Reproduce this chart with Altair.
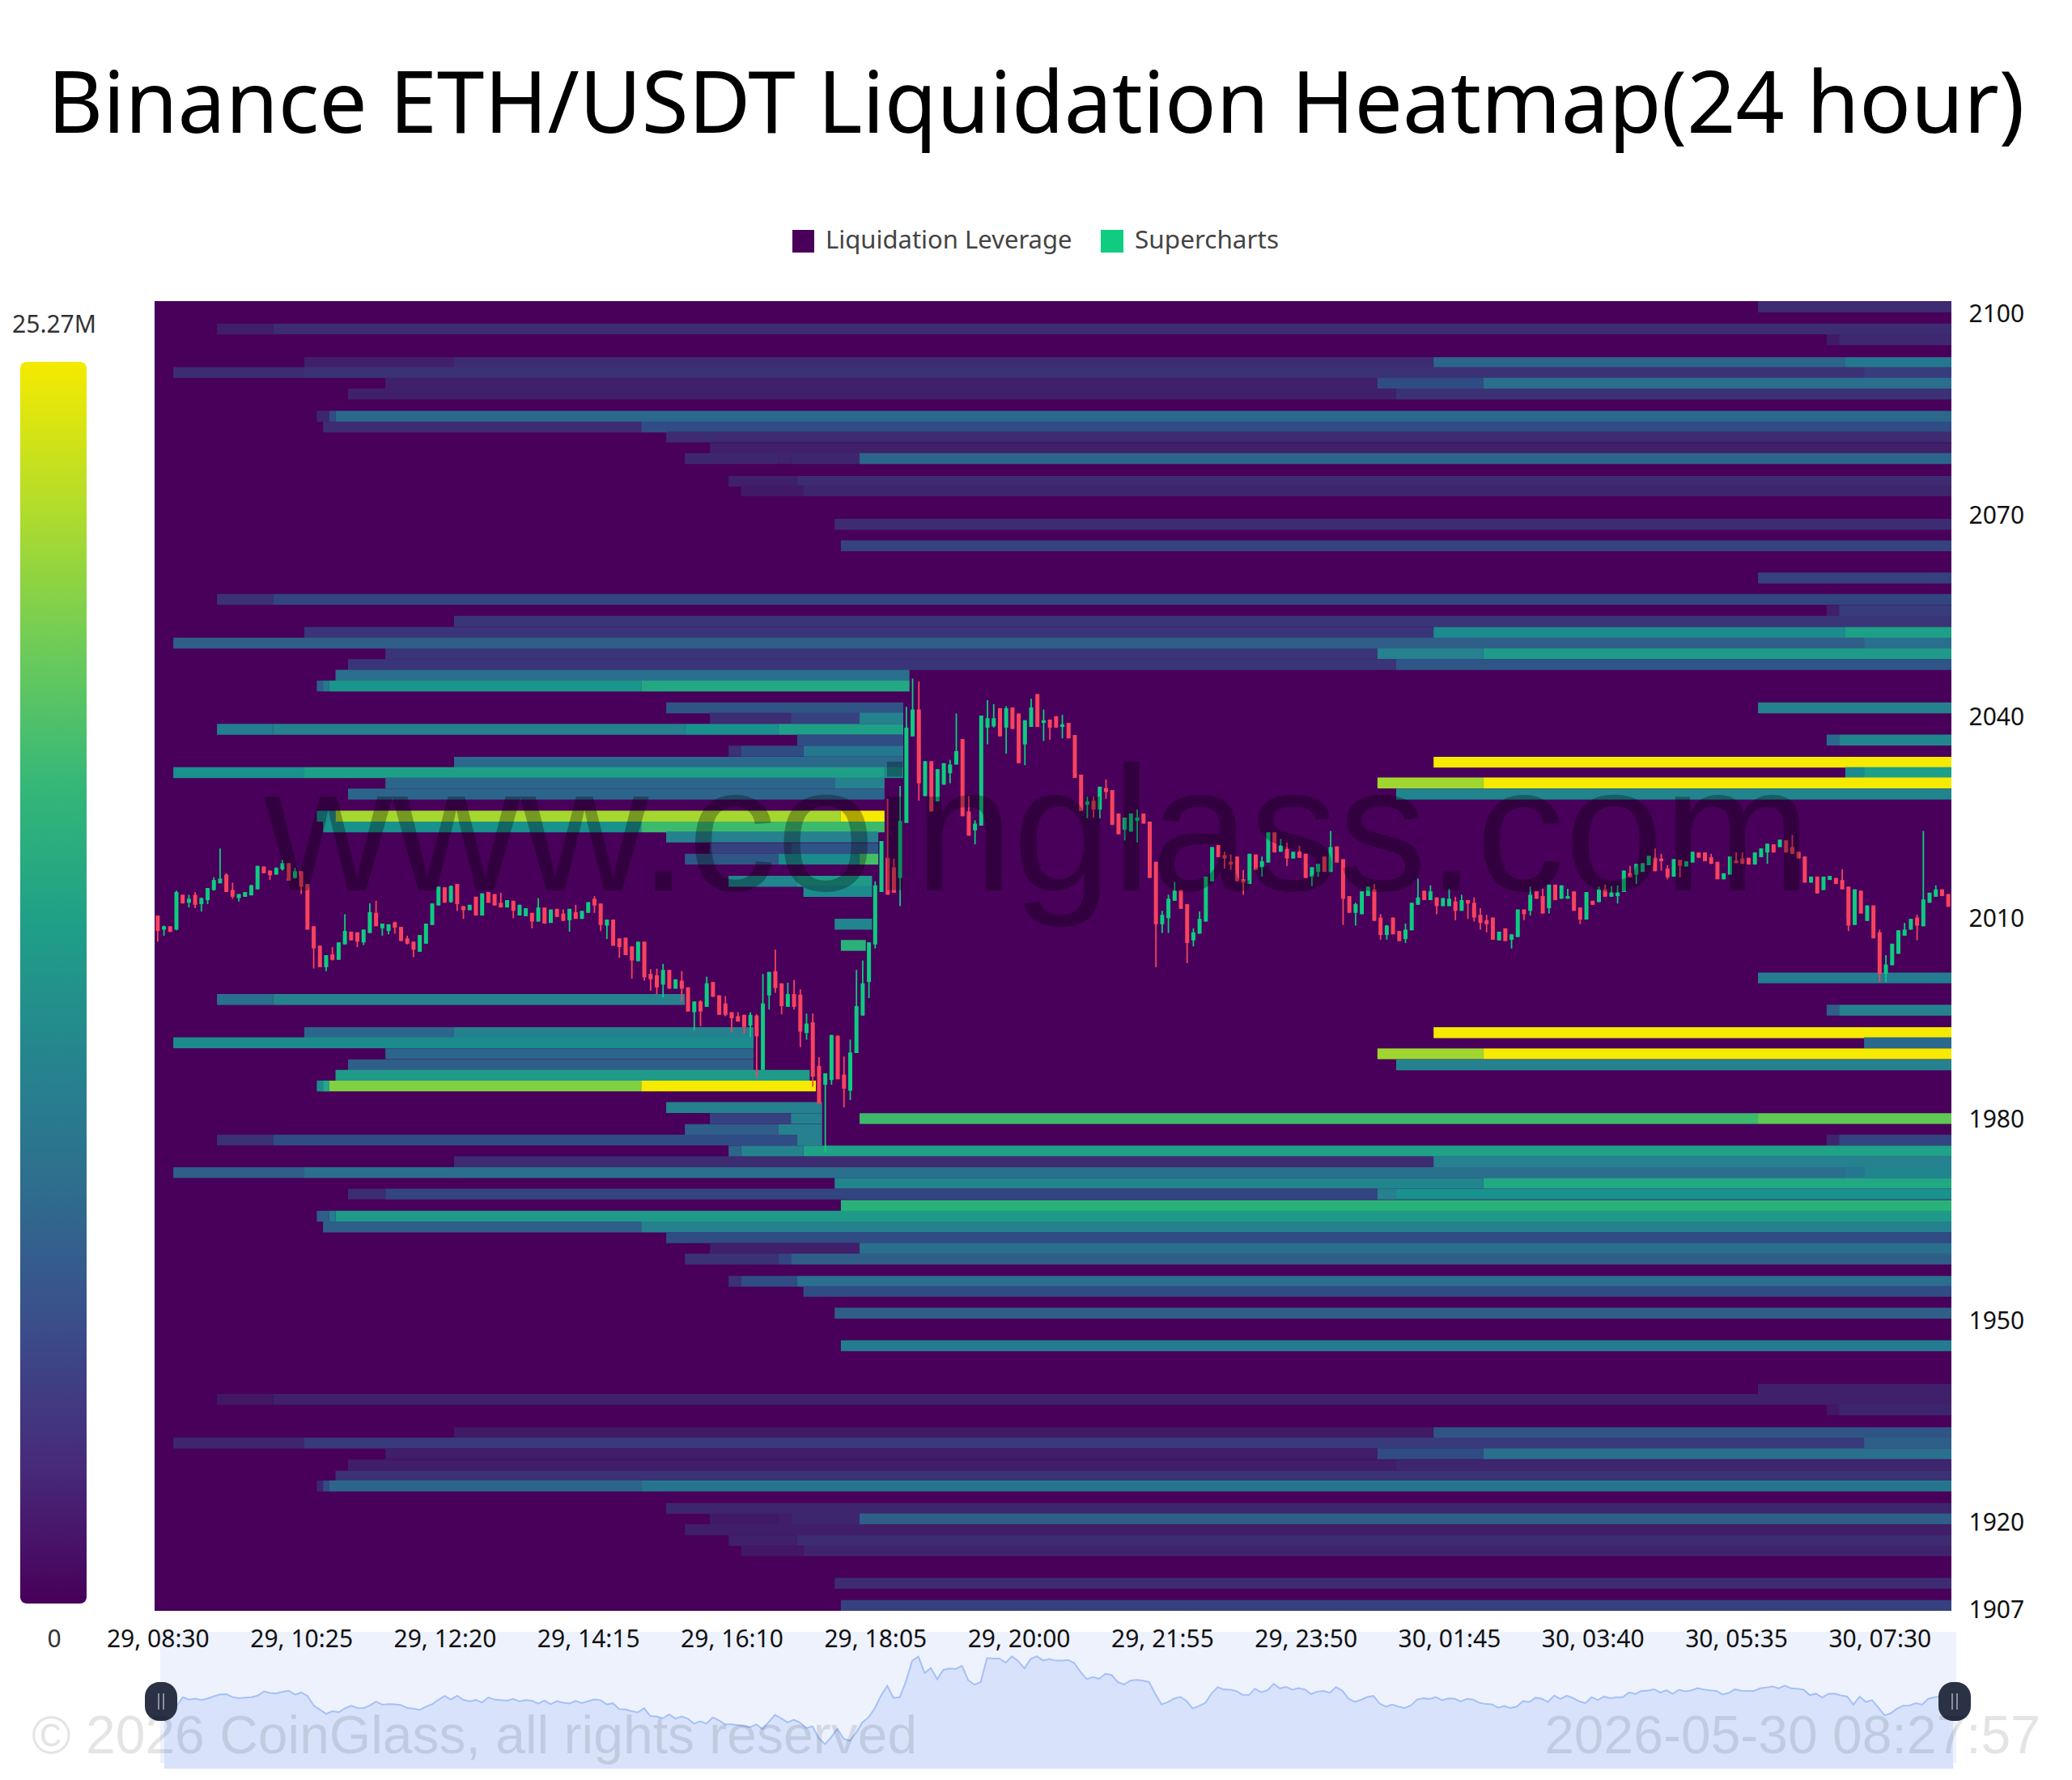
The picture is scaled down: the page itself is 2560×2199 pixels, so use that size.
import altair as alt
import pandas as pd

MAX_LIQ = 25.27

# candles, 5 minute bars
opens = [2010.5,2008.4,2008.9,2008.4,2013.6,2012.4,2013.6,2012.2,2012.8,2014.3,
 2015.3,2016.6,2014.3,2013.1,2013.3,2013.5,2014.4,2017.8,2017.2,2016.6,
 2017.4,2018.3,2016.1,2017.1,2015.2,2008.9,2006.0,2002.8,2004.7,2003.9,
 2006.2,2008.1,2008.0,2006.5,2007.9,2010.9,2008.6,2008.2,2009.5,2008.8,
 2007.1,2006.6,2005.1,2006.3,2009.1,2012.0,2014.7,2012.5,2015.2,2011.9,
 2011.3,2013.3,2010.5,2014.0,2013.7,2012.4,2011.7,2012.7,2010.5,2010.4,
 2010.9,2009.6,2011.7,2009.4,2011.5,2010.8,2009.8,2011.0,2010.0,2010.9,
 2013.0,2012.3,2009.0,2009.9,2007.1,2007.2,2005.9,2003.7,2006.6,2001.8,
 2001.6,2000.2,2002.4,1999.6,2000.8,1999.8,1996.1,1997.7,1996.9,2000.6,
 1998.6,1997.4,1996.1,1995.5,1995.7,1994.1,1995.6,1987.5,1998.6,2002.2,
 2000.4,1996.9,1998.8,1998.7,1993.0,1994.6,1988.1,1985.3,1986.0,1992.6,
 1986.8,1984.4,1990.0,1995.6,2000.6,2006.2,2014.0,2019.1,2017.7,2016.1,
 2024.3,2037.2,2041.2,2028.3,2033.5,2027.5,2030.0,2031.7,2033.0,2036.8,
 2026.0,2023.2,2023.9,2038.5,2038.7,2041.4,2038.5,2041.5,2040.6,2036.0,
 2038.6,2043.5,2039.2,2039.7,2040.2,2038.6,2039.2,2037.4,2031.5,2027.0,
 2027.6,2026.3,2029.5,2029.2,2025.7,2023.3,2023.0,2024.6,2025.7,2024.5,
 2018.5,2009.2,2010.1,2012.7,2014.3,2012.2,2006.8,2007.8,2009.6,2015.6,
 2021.0,2019.5,2018.5,2019.3,2015.9,2015.2,2019.6,2017.7,2018.4,2022.9,
 2020.0,2020.4,2019.0,2020.0,2019.7,2016.3,2017.0,2019.3,2017.0,2020.8,
 2018.9,2013.4,2010.9,2010.7,2013.4,2014.4,2010.2,2007.6,2010.2,2008.2,
 2007.0,2008.3,2012.1,2014.2,2012.8,2013.2,2011.9,2011.9,2012.6,2011.2,
 2012.8,2012.4,2010.6,2009.8,2010.2,2006.8,2008.6,2006.9,2007.3,2011.4,
 2011.2,2014.1,2013.4,2011.6,2015.1,2013.0,2013.0,2014.1,2011.7,2009.9,
 2012.7,2012.5,2014.4,2013.3,2013.4,2014.0,2016.8,2016.6,2017.0,2018.0,
 2019.1,2019.0,2017.5,2016.3,2018.8,2017.8,2018.4,2019.9,2019.9,2019.2,
 2018.5,2015.9,2016.6,2018.7,2019.0,2019.1,2018.1,2019.2,2019.9,2021.1,
 2020.7,2021.7,2020.7,2020.0,2019.3,2015.4,2016.3,2014.3,2015.8,2016.1,
 2015.8,2014.8,2009.1,2014.2,2009.7,2012.0,2008.0,2001.8,2003.1,2004.8,
 2007.5,2008.4,2010.2,2008.9,2012.4,2013.3,2014.4,2013.7]
closes = [2008.2,2008.9,2008.1,2014.0,2012.3,2013.0,2012.1,2013.1,2014.6,2015.8,
 2016.0,2014.0,2013.3,2013.7,2014.0,2015.0,2017.9,2016.8,2016.5,2017.6,
 2018.3,2015.7,2017.1,2014.8,2008.4,2005.6,2002.8,2004.6,2003.9,2006.5,
 2008.2,2006.8,2006.6,2008.4,2011.0,2008.9,2009.3,2009.2,2008.7,2006.7,
 2006.3,2005.4,2007.6,2009.3,2012.3,2014.8,2012.4,2014.9,2012.2,2011.3,
 2012.1,2010.5,2013.8,2012.4,2012.0,2011.7,2012.8,2011.2,2012.1,2011.6,
 2009.6,2011.7,2009.3,2011.4,2010.3,2009.7,2011.5,2010.0,2011.2,2012.5,
 2012.0,2009.1,2009.9,2006.0,2005.8,2004.6,2003.8,2006.6,2001.3,2001.0,
 1999.8,2002.4,1999.6,2001.0,1999.6,1996.2,1997.7,1996.2,2000.4,1998.4,
 1995.7,1995.7,1995.2,1994.7,1993.9,1995.7,1992.5,1997.4,2002.1,1999.7,
 1997.0,1998.8,1996.9,1993.2,1994.4,1986.5,1982.5,1987.0,1992.7,1986.1,
 1984.7,1990.1,1997.0,2000.4,2006.5,2015.0,2021.6,2013.6,2013.9,2024.6,
 2038.5,2041.2,2030.2,2033.5,2026.0,2032.3,2033.2,2033.0,2035.0,2025.3,
 2022.4,2024.2,2040.3,2039.9,2039.9,2037.2,2041.4,2038.3,2033.2,2039.6,
 2041.5,2038.6,2039.6,2038.5,2038.5,2039.0,2036.9,2031.0,2026.1,2027.5,
 2026.3,2029.7,2028.9,2024.0,2022.6,2025.1,2025.7,2025.1,2024.2,2016.1,
 2009.2,2010.6,2013.0,2014.2,2011.5,2006.4,2008.0,2010.0,2016.3,2020.7,
 2019.2,2019.0,2018.1,2015.6,2015.4,2019.7,2017.3,2018.6,2022.9,2019.9,
 2020.9,2019.0,2020.0,2019.1,2016.1,2017.7,2018.2,2017.0,2020.7,2018.4,
 2013.0,2010.9,2012.2,2014.1,2014.8,2009.7,2007.6,2009.0,2007.7,2006.7,
 2008.4,2012.4,2013.2,2012.8,2014.1,2011.9,2013.1,2013.0,2011.2,2012.8,
 2012.3,2010.2,2009.4,2009.2,2006.9,2008.1,2006.7,2007.7,2011.4,2010.7,
 2013.6,2013.0,2010.8,2015.1,2012.8,2015.0,2013.4,2011.2,2009.9,2014.0,
 2012.1,2014.4,2013.3,2013.9,2013.9,2017.2,2016.2,2018.2,2018.3,2019.4,
 2017.1,2018.6,2016.2,2018.9,2017.9,2018.6,2020.0,2019.1,2018.6,2018.2,
 2015.9,2016.8,2019.3,2018.3,2018.2,2018.1,2019.9,2020.5,2021.2,2019.9,
 2021.8,2019.9,2019.7,2019.0,2015.4,2016.3,2013.8,2016.3,2016.4,2015.2,
 2014.4,2009.0,2014.4,2010.8,2012.0,2007.1,2001.8,2003.2,2006.3,2008.3,
 2008.4,2010.0,2009.0,2012.9,2013.9,2014.4,2013.4,2011.8]
highs = [2010.5,2009.0,2008.9,2014.2,2013.6,2013.6,2014.0,2013.2,2014.6,2016.2,
 2020.5,2016.8,2015.4,2013.7,2014.0,2015.1,2017.9,2017.8,2017.2,2017.7,
 2018.8,2018.3,2017.6,2017.1,2015.2,2008.9,2006.0,2004.6,2005.8,2006.5,
 2010.7,2008.1,2008.0,2008.4,2012.3,2012.7,2009.3,2009.2,2009.6,2008.8,
 2007.5,2006.6,2007.6,2009.3,2012.3,2014.8,2014.7,2015.0,2015.2,2011.9,
 2012.1,2013.3,2013.8,2014.0,2013.7,2013.9,2012.8,2012.7,2012.1,2011.6,
 2010.9,2013.1,2011.7,2011.4,2011.5,2011.4,2011.5,2012.1,2011.2,2012.5,
 2013.4,2012.3,2009.9,2009.9,2007.1,2007.2,2005.9,2006.6,2006.6,2002.5,
 2002.6,2003.3,2002.4,2001.0,2002.2,1999.8,1997.7,1997.9,2001.4,2000.6,
 1998.6,1998.5,1996.1,1996.1,1995.7,1996.1,1995.8,2001.8,2002.1,2005.4,
 2000.4,2000.5,2000.9,1999.5,1995.9,1995.9,1989.4,1987.0,1992.7,1992.6,
 1989.5,1992.0,2002.4,2003.8,2006.5,2015.6,2021.6,2027.9,2019.0,2029.8,
 2041.6,2045.8,2045.4,2033.5,2033.5,2032.3,2033.2,2033.7,2040.6,2036.8,
 2028.3,2024.7,2040.3,2042.6,2042.0,2041.4,2041.7,2041.5,2040.6,2039.6,
 2042.8,2043.5,2041.2,2039.7,2040.2,2040.4,2039.2,2037.4,2031.5,2028.2,
 2028.2,2029.7,2030.8,2029.2,2025.7,2025.1,2025.7,2026.3,2025.7,2024.5,
 2018.5,2011.2,2013.6,2015.5,2014.3,2012.2,2008.6,2011.1,2016.3,2020.7,
 2021.0,2020.0,2019.6,2019.3,2017.3,2019.7,2019.6,2019.3,2022.9,2022.9,
 2021.9,2021.4,2020.0,2020.9,2019.7,2017.7,2018.2,2019.3,2023.1,2020.8,
 2018.9,2013.4,2012.4,2014.1,2014.8,2015.2,2010.7,2009.1,2010.2,2008.2,
 2009.3,2012.4,2016.0,2014.2,2015.0,2013.2,2013.1,2014.5,2013.3,2013.6,
 2012.8,2013.2,2011.6,2010.6,2010.2,2008.1,2008.6,2007.7,2011.4,2011.4,
 2014.8,2014.1,2014.5,2015.1,2015.1,2015.0,2014.5,2014.1,2011.7,2014.0,
 2012.7,2014.8,2015.1,2014.9,2015.0,2017.2,2017.9,2018.2,2018.3,2019.4,
 2020.5,2019.7,2018.0,2018.9,2018.8,2018.6,2020.0,2019.9,2019.9,2019.7,
 2018.5,2016.8,2019.3,2019.9,2019.9,2019.1,2019.9,2020.5,2021.2,2021.1,
 2021.8,2021.7,2022.5,2020.0,2019.3,2016.3,2016.3,2016.3,2016.4,2016.1,
 2017.4,2014.8,2014.4,2014.2,2012.0,2012.0,2008.4,2004.6,2006.3,2008.3,
 2009.4,2010.0,2010.6,2023.1,2013.9,2015.0,2014.4,2013.7]
lows = [2006.6,2007.5,2008.0,2008.3,2012.3,2011.7,2011.6,2011.1,2012.2,2014.2,
 2015.3,2014.0,2013.0,2012.6,2013.3,2013.5,2014.4,2016.8,2015.8,2016.6,
 2017.2,2015.7,2016.0,2013.7,2008.4,2002.6,2002.8,2002.2,2003.8,2003.9,
 2006.2,2006.8,2005.8,2006.1,2007.9,2008.9,2007.5,2007.7,2007.8,2006.7,
 2006.2,2004.3,2005.1,2006.3,2009.1,2012.0,2012.4,2012.4,2011.2,2010.0,
 2011.3,2010.5,2010.5,2012.4,2012.0,2011.7,2011.7,2010.1,2010.5,2010.4,
 2008.6,2009.6,2009.3,2009.4,2010.3,2009.7,2008.1,2010.0,2010.0,2010.9,
 2010.9,2008.2,2007.0,2006.0,2004.2,2004.6,2001.1,2003.7,2000.8,1999.3,
 1998.8,1998.3,1999.6,1999.6,1997.7,1996.2,1993.4,1994.0,1996.9,1998.4,
 1995.7,1995.5,1993.1,1994.7,1992.9,1992.4,1986.3,1987.5,1996.5,1999.0,
 1995.8,1996.9,1996.5,1990.9,1992.0,1985.0,1982.5,1975.2,1985.3,1986.1,
 1981.9,1983.0,1990.0,1995.6,1998.2,2005.6,2014.0,2013.6,2013.9,2011.9,
 2024.3,2037.2,2027.6,2028.3,2026.0,2027.5,2030.0,2030.2,2033.0,2025.3,
 2022.4,2021.1,2023.9,2036.0,2038.5,2037.2,2034.6,2038.3,2033.2,2032.9,
 2038.6,2038.6,2036.5,2036.7,2038.5,2036.9,2036.9,2031.0,2026.1,2025.0,
 2025.1,2025.0,2027.9,2024.0,2022.6,2021.7,2023.0,2021.4,2024.2,2016.1,
 2002.8,2007.9,2007.9,2012.7,2011.5,2003.4,2005.9,2007.8,2009.6,2015.6,
 2019.2,2017.5,2017.3,2015.6,2013.6,2015.2,2017.3,2016.3,2018.4,2019.9,
 2020.0,2017.9,2019.0,2019.1,2016.1,2014.9,2016.3,2017.0,2017.0,2018.4,
 2009.1,2010.9,2009.0,2010.7,2013.4,2009.7,2006.9,2006.9,2007.7,2006.7,
 2006.4,2008.3,2012.1,2012.8,2012.8,2010.7,2011.9,2011.9,2009.8,2011.2,
 2010.0,2009.6,2008.4,2008.0,2006.9,2006.8,2006.7,2005.6,2007.3,2009.8,
 2010.5,2013.0,2010.8,2010.8,2012.8,2013.0,2013.0,2011.2,2009.2,2009.9,
 2012.1,2012.5,2013.3,2013.3,2012.3,2014.0,2016.2,2015.2,2017.0,2018.0,
 2017.1,2017.2,2015.9,2016.3,2016.2,2017.8,2018.4,2019.1,2018.6,2018.2,
 2015.9,2015.9,2016.6,2018.3,2018.2,2018.1,2018.1,2019.2,2018.2,2019.9,
 2020.7,2019.9,2019.7,2019.0,2015.4,2015.4,2013.8,2014.3,2015.8,2015.2,
 2014.4,2008.2,2009.1,2010.8,2009.7,2007.1,2000.6,2000.6,2003.1,2004.8,
 2007.5,2008.4,2006.8,2008.9,2012.4,2013.3,2013.4,2011.8]

# liquidation levels: price of each band and its runs (first bar, last bar, value in M)
level_prices = [2101.2,2097.9,2096.3,2092.9,2091.4,2089.8,2088.2,2084.9,2083.3,2081.8,
 2080.1,2078.6,2075.2,2073.8,2068.8,2065.6,2060.8,2057.6,2055.95,2054.35,
 2052.7,2051.1,2049.5,2047.9,2046.3,2044.7,2041.45,2039.9,2038.25,2036.65,
 2035.0,2033.35,2031.8,2030.25,2028.6,2025.3,2023.7,2022.2,2020.5,2018.9,
 2015.6,2014.1,2009.2,2006.05,2001.2,1998.0,1996.4,1993.05,1991.55,1989.9,
 1988.25,1986.7,1985.1,1981.9,1980.25,1978.6,1977.05,1975.4,1973.8,1972.2,
 1970.6,1969.0,1967.3,1965.7,1964.1,1962.5,1960.9,1959.3,1956.0,1954.5,
 1951.25,1946.4,1939.9,1938.4,1936.85,1933.45,1931.9,1930.3,1928.6,1927.0,
 1925.5,1922.15,1920.6,1919.0,1917.4,1915.85,1911.0,1907.7]
level_runs = [
 [(257,288,3.0)],
 [(10,19,1.8),(19,288,3.0)],
 [(268,270,1.5),(270,288,2.8)],
 [(24,48,2.0),(48,205,3.0),(205,271,6.8),(271,288,8.3)],
 [(3,24,3.0),(24,274,3.3),(274,288,4.0)],
 [(37,196,2.0),(196,213,5.0),(213,288,7.6)],
 [(31,199,2.0),(199,288,3.3)],
 [(26,28,2.5),(28,29,5.0),(29,288,7.1)],
 [(27,78,3.0),(78,288,5.0)],
 [(82,288,3.0)],
 [(89,288,2.0)],
 [(85,100,2.5),(100,102,2.3),(102,113,2.5),(113,288,6.8)],
 [(92,103,2.0),(103,288,3.0)],
 [(94,104,1.5),(104,288,2.5)],
 [(109,288,3.0)],
 [(110,288,4.3)],
 [(257,288,4.3)],
 [(10,19,3.3),(19,288,4.5)],
 [(268,270,2.0),(270,288,4.0)],
 [(48,288,3.5)],
 [(24,205,3.5),(205,271,10.1),(271,288,11.9)],
 [(3,274,6.3),(274,288,7.6)],
 [(37,196,3.5),(196,213,9.3),(213,288,11.4)],
 [(31,199,3.5),(199,288,5.6)],
 [(29,121,7.6)],
 [(26,27,6.3),(27,28,8.3),(28,78,10.9),(78,121,12.6)],
 [(82,120,5.6),(257,288,9.3)],
 [(89,102,3.0),(102,113,4.3),(113,120,9.3)],
 [(10,19,8.8),(19,85,9.3),(85,100,10.6),(100,120,11.9)],
 [(103,120,5.0),(268,270,7.1),(270,288,9.6)],
 [(92,94,3.3),(94,104,5.0),(104,120,8.3)],
 [(48,120,7.1),(205,288,25.27)],
 [(3,24,10.6),(24,117,11.9),(117,120,10.1),(271,274,10.1),(274,288,11.9)],
 [(37,109,6.8),(109,117,9.3),(196,213,20.7),(213,288,25.27)],
 [(31,117,6.8),(199,288,9.6)],
 [(26,29,10.1),(29,110,21.0),(110,117,25.27)],
 [(27,78,10.6),(78,117,15.2)],
 [(82,116,9.3)],
 [(89,102,4.3),(102,116,5.6)],
 [(85,100,5.8),(100,113,10.1),(113,116,15.7)],
 [(92,103,9.6),(103,115,11.4)],
 [(104,115,10.1)],
 [(109,115,9.6)],
 [(110,114,13.9)],
 [(257,288,8.8)],
 [(10,19,7.6),(19,85,9.3)],
 [(268,270,6.3),(270,288,9.3)],
 [(24,48,6.8),(48,96,9.3),(205,288,25.27)],
 [(3,96,10.1),(274,288,7.1)],
 [(37,96,6.8),(196,213,20.7),(213,288,25.27)],
 [(31,96,6.3),(199,288,9.3)],
 [(29,105,11.4)],
 [(26,27,10.1),(27,28,12.6),(28,78,19.0),(78,106,25.27)],
 [(82,107,9.3)],
 [(89,102,4.3),(102,107,9.3),(113,257,15.2),(257,288,17.2)],
 [(85,100,6.3),(100,107,9.3)],
 [(10,19,3.3),(19,103,5.0),(103,107,9.3),(268,270,2.5),(270,288,4.5)],
 [(92,94,6.8),(94,104,9.3),(104,288,12.1)],
 [(48,205,3.0),(205,288,9.3)],
 [(3,24,6.3),(24,271,7.6),(271,274,8.3),(274,288,9.6)],
 [(109,213,9.6),(213,288,12.6)],
 [(31,37,3.0),(37,196,4.5),(196,199,9.3),(199,288,10.6)],
 [(110,288,13.9)],
 [(26,28,6.3),(28,29,8.8),(29,288,11.4)],
 [(27,78,6.3),(78,288,9.3)],
 [(82,288,5.0)],
 [(89,113,2.0),(113,288,7.6)],
 [(85,100,3.3),(100,102,4.5),(102,288,6.3)],
 [(92,94,3.3),(94,103,5.0),(103,288,7.6)],
 [(104,288,5.0)],
 [(109,288,6.3)],
 [(110,288,8.8)],
 [(257,288,2.0)],
 [(10,19,1.3),(19,288,2.0)],
 [(268,270,1.3),(270,288,2.5)],
 [(48,205,1.5),(205,288,5.6)],
 [(3,24,2.5),(24,274,3.8),(274,288,6.3)],
 [(37,196,1.8),(196,213,5.0),(213,288,7.6)],
 [(31,199,1.8),(199,288,2.5)],
 [(29,288,3.3)],
 [(26,27,2.5),(27,28,5.0),(28,78,6.8),(78,288,8.1)],
 [(82,288,2.5)],
 [(89,100,1.5),(100,102,1.8),(102,113,2.5),(113,288,6.3)],
 [(85,288,1.8)],
 [(92,103,2.0),(103,288,3.0)],
 [(94,104,1.3),(104,288,2.3)],
 [(109,288,3.0)],
 [(110,288,4.3)],
]

price_ticks = [2100, 2070, 2040, 2010, 1980, 1950, 1920, 1907]
time_ticks = ['29, 08:30', '29, 10:25', '29, 12:20', '29, 14:15', '29, 16:10', '29, 18:05', '29, 20:00',
              '29, 21:55', '29, 23:50', '30, 01:45', '30, 03:40', '30, 05:35', '30, 07:30']

heat_stops = [0, .06, .12, .17, .25, .30, .37, .45, .50, .60, .68, .82, 1]
heat_colors = ['#48005a', '#411a66', '#3d2c72', '#35427f', '#2f5e88', '#2a6f8e', '#25828e',
               '#1f9a89', '#23a884', '#3bba6c', '#5fc855', '#a0d630', '#f5ea00']

UP = '#0ecb81'
DOWN = '#f8425f'
BAND = 0.81
FONT = 'Noto Sans'

heat_rows = []
for price, runs in zip(level_prices, level_runs):
    for start, end, value in runs:
        heat_rows.append({'start': start, 'end': end, 'top': price + BAND, 'bottom': price - BAND, 'value': value})
heat_df = pd.DataFrame(heat_rows)

candles = pd.DataFrame({'open': opens, 'close': closes, 'high': highs, 'low': lows})
candles['bar'] = candles.index + 0.5

x_scale = alt.Scale(domain=[0, 288], nice=False, zero=False)
y_scale = alt.Scale(domain=[1906.9, 2102.05], nice=False, zero=False)

x_labels = '[' + ','.join("'%s'" % t for t in time_ticks) + '][round((datum.value - 0.5) / 23)]'

heat = alt.Chart(heat_df).mark_rect().encode(
    x=alt.X('start:Q', scale=x_scale, title=None,
            axis=alt.Axis(values=[i * 23 + 0.5 for i in range(13)], labelExpr=x_labels, grid=False, ticks=False,
                          domain=False, labelFontSize=30, labelFont=FONT, labelColor='#111111', labelPadding=20,
                          labelOverlap=False, labelFlush=False, zindex=1)),
    x2='end:Q',
    y=alt.Y('top:Q', scale=y_scale, title=None,
            axis=alt.Axis(orient='right', values=price_ticks, format='d', grid=False, ticks=False, domain=False,
                          labelFontSize=30, labelFont=FONT, labelColor='#111111', labelPadding=21)),
    y2='bottom:Q',
    color=alt.Color('value:Q', legend=None,
                    scale=alt.Scale(domain=[s * MAX_LIQ for s in heat_stops], range=heat_colors)),
)

candle_color = alt.condition('datum.close >= datum.open', alt.value(UP), alt.value(DOWN))
wicks = alt.Chart(candles).mark_rule(strokeWidth=1.8).encode(
    x=alt.X('bar:Q', scale=x_scale, axis=None),
    y=alt.Y('high:Q', scale=y_scale, axis=None),
    y2='low:Q',
    color=candle_color,
)
bodies = alt.Chart(candles).mark_rule(strokeWidth=5).encode(
    x=alt.X('bar:Q', scale=x_scale, axis=None),
    y=alt.Y('open:Q', scale=y_scale, axis=None),
    y2='close:Q',
    color=candle_color,
)


def text(label, x, y, size, color='#000000', align='center', font=FONT, opacity=1.0):
    return alt.Chart(pd.DataFrame({'t': [label]})).mark_text(
        align=align, baseline='middle', fontSize=size, font=font, color=color, opacity=opacity,
    ).encode(text='t:N', x=alt.value(x), y=alt.value(y))


def box(x, x2, y, y2, fill, radius=0):
    return alt.Chart(pd.DataFrame({'a': [0]})).mark_rect(fill=fill, cornerRadius=radius).encode(
        x=alt.value(x), x2=alt.value(x2), y=alt.value(y), y2=alt.value(y2))


# everything below is placed relative to the plot area, origin at page (191, 372)
watermark = text('www.coinglass.com', 1091, 662, 219, color='#000000', font='Liberation Sans', opacity=0.29)
title = text('Binance ETH/USDT Liquidation Heatmap(24 hour)', 1089, -240, 105.4)

legend_a = box(788, 815, -88, -60, '#48005a')
legend_b = box(1169, 1197, -88, -60, '#10cc80')
legend_a_text = text('Liquidation Leverage', 829, -74, 31, color='#444444', align='left')
legend_b_text = text('Supercharts', 1211, -74, 31.5, color='#444444', align='left')

colorbar = box(-166, -84, 75, 1609, alt.Gradient(
    gradient='linear', x1=0, x2=0, y1=1, y2=0,
    stops=[alt.GradientStop(color=c, offset=s) for s, c in
           zip([0, .11, .22, .33, .44, .55, .66, .77, .88, 1],
               ['#48005a', '#472a7a', '#3b4c8a', '#2f6c8e', '#25858e', '#1fa087', '#35b778', '#6ecb58', '#b0dc2c', '#f5ea00'])],
), radius=8)
bar_max = text('25.27M', -124, 30, 30, color='#333333')
bar_min = text('0', -124, 1654, 30, color='#333333')

slider_x = alt.Scale(domain=[0, 288], range=[8, 2226], nice=False, zero=False)
slider_y = alt.Scale(domain=[1985, 2041], range=[1778, 1675], nice=False, zero=False)
slider_bg = box(7, 2226, 1644, 1806, '#eef2fd')
slider = alt.Chart(candles).mark_area(color='#d8e3fb', opacity=1, line={'color': '#a5c0f8', 'strokeWidth': 2}).encode(
    x=alt.X('bar:Q', scale=slider_x, axis=None),
    y=alt.Y('close:Q', scale=slider_y, axis=None),
    y2=alt.value(1806),
)
handle_l = box(-12, 28, 1706, 1754, '#2b3245', radius=18)
handle_r = box(2204, 2244, 1706, 1754, '#2b3245', radius=18)
handle_l_marks = [box(4, 6, 1720, 1740, '#8a90a0'), box(10, 12, 1720, 1740, '#8a90a0')]
handle_r_marks = [box(2220, 2222, 1720, 1740, '#8a90a0'), box(2226, 2228, 1720, 1740, '#8a90a0')]

copyright_text = text('\u00a9 2026 CoinGlass, all rights reserved', -152, 1774, 66, font='Liberation Sans', align='left', opacity=0.1)
stamp = text('2026-05-30 08:27:57', 2330, 1774, 66, font='Liberation Sans', align='right', opacity=0.1)

chart = alt.layer(
    heat, wicks, bodies, watermark, title,
    legend_a, legend_b, legend_a_text, legend_b_text,
    colorbar, bar_max, bar_min,
    slider_bg, slider, handle_l, handle_r, *handle_l_marks, *handle_r_marks,
    copyright_text, stamp,
).resolve_scale(x='independent', y='independent').properties(
    width=2220,
    height=1618,
    padding={'left': 183, 'top': 364, 'right': 137, 'bottom': 195},
    autosize=alt.AutoSizeParams(type='none'),
).configure_view(fill='#48005a', stroke=None)

chart.save("out.html", embed_options={"renderer": "svg", "actions": False})
